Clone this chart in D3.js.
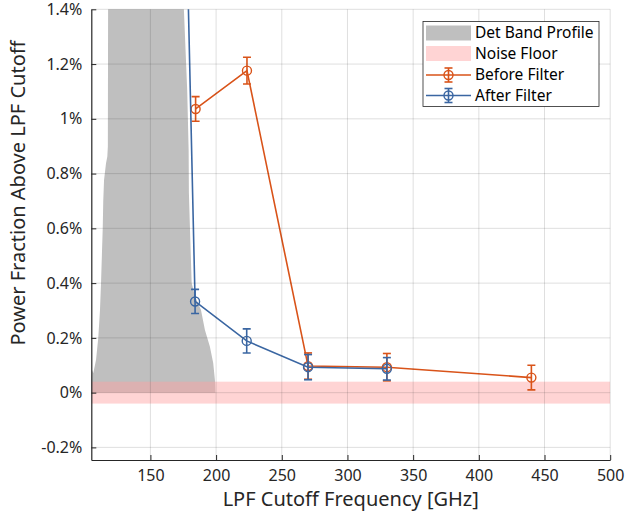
<!DOCTYPE html>
<html><head><meta charset="utf-8">
<script src="https://cdn.jsdelivr.net/npm/d3@7"></script>
<style>body{margin:0;background:#fff;} svg{display:block;font-family:"Noto Sans",sans-serif;}</style>
</head><body><svg id="chart" width="628" height="520"></svg>
<script>
// ---- data ----
const xTicks = [150, 200, 250, 300, 350, 400, 450, 500];
const xTickLabels = ["150", "200", "250", "300", "350", "400", "450", "500"];
const yTicks = [-0.2, 0, 0.2, 0.4, 0.6, 0.8, 1.0, 1.2, 1.4];
const yTickLabels = ["-0.2%", "0%", "0.2%", "0.4%", "0.6%", "0.8%", "1%", "1.2%", "1.4%"];

const bandFreq  = [100, 105, 105.8, 106.5, 108.6, 110.3, 111.6, 112.4, 113.7, 114.1, 114.7, 116.2, 117.2, 117.6, 118, 130, 150, 165, 172, 175.5, 178.0, 179.1, 179.3, 180.1, 181.4, 183.9, 188.5, 191.5, 195.3, 197.8, 199.1, 199.4];
const bandValue = [0, 0.05, 0.083, 0.071, 0.12, 0.2, 0.3, 0.4, 0.6, 0.7, 0.777, 0.838, 0.862, 0.9, 2.0, 3.0, 3.2, 3.0, 2.0, 1.397, 1.105, 0.886, 0.729, 0.6, 0.4, 0.353, 0.302, 0.229, 0.168, 0.108, 0.046, 0];

const noiseFloor = [-0.04, 0.04];

const beforeFreq  = [184.4, 223.5, 270, 330, 440];
const beforeValue = [1.036, 1.176, 0.097, 0.093, 0.055];
const beforeErr   = [0.045, 0.049, 0.048, 0.05, 0.045];

const afterFreq  = [150, 184, 223.3, 270, 330];
const afterValue = [7.5, 0.333, 0.189, 0.093, 0.087];
const afterErr   = [0.045, 0.044, 0.044, 0.046, 0.041];

const legendLabels = ["Det Band Profile", "Noise Floor", "Before Filter", "After Filter"];

// ---- styles ----
const C_AXIS = "#262626";
const C_BAND = "#bfbfbf";
const C_NOISE = "rgb(255,160,160)";
const C_BEFORE = "#D95319";
const C_AFTER = "#3a66a2";

const svg = d3.select("#chart");
const L = 91.3, R = 610.2, T = 9.3, B = 460;
const x = d3.scaleLinear().domain([105, 500]).range([L, R]);
const y = d3.scaleLinear().domain([-0.246, 1.4]).range([B, T]);

svg.append("defs").append("clipPath").attr("id", "clip")
  .append("rect").attr("x", L).attr("y", T).attr("width", R - L).attr("height", B - T);

const plot = svg.append("g").attr("clip-path", "url(#clip)");

// band profile
const band = bandFreq.map((f, i) => ({f, v: bandValue[i]}));
plot.append("path").datum(band)
  .attr("d", d3.area().x(d => x(d.f)).y0(y(0)).y1(d => y(d.v)))
  .attr("fill", C_BAND);

// noise floor
plot.append("rect")
  .attr("x", L).attr("width", R - L)
  .attr("y", y(noiseFloor[1])).attr("height", y(noiseFloor[0]) - y(noiseFloor[1]))
  .attr("fill", C_NOISE).attr("fill-opacity", 0.45);

// grid
const grid = svg.append("g").attr("stroke", C_AXIS).attr("stroke-opacity", 0.15).attr("stroke-width", 1);
xTicks.forEach(t => grid.append("line").attr("x1", x(t)).attr("x2", x(t)).attr("y1", T).attr("y2", B));
yTicks.forEach(t => grid.append("line").attr("x1", L).attr("x2", R).attr("y1", y(t)).attr("y2", y(t)));

// series
function series(fr, vals, errs, color) {
  const pts = fr.map((f, i) => ({f, v: vals[i], e: errs[i]}));
  const g = plot.append("g");
  g.append("path").datum(pts)
    .attr("d", d3.line().x(d => x(d.f)).y(d => y(d.v)))
    .attr("fill", "none").attr("stroke", color).attr("stroke-width", 1.6);
  const cap = 4;
  pts.forEach(d => {
    const cx = x(d.f), y1 = y(d.v + d.e), y2 = y(d.v - d.e);
    g.append("line").attr("x1", cx).attr("x2", cx).attr("y1", y1).attr("y2", y2).attr("stroke", color).attr("stroke-width", 1.6);
    g.append("line").attr("x1", cx - cap).attr("x2", cx + cap).attr("y1", y1).attr("y2", y1).attr("stroke", color).attr("stroke-width", 1.6);
    g.append("line").attr("x1", cx - cap).attr("x2", cx + cap).attr("y1", y2).attr("y2", y2).attr("stroke", color).attr("stroke-width", 1.6);
    g.append("circle").attr("cx", cx).attr("cy", y(d.v)).attr("r", 4.5)
      .attr("fill", "none").attr("stroke", color).attr("stroke-width", 1.4);
  });
}
series(beforeFreq, beforeValue, beforeErr, C_BEFORE);
series(afterFreq, afterValue, afterErr, C_AFTER);

// axes
const xAxis = svg.append("g").attr("transform", `translate(0,${B})`)
  .call(d3.axisBottom(x).tickValues(xTicks).tickFormat((d, i) => xTickLabels[i]).tickSizeInner(-5).tickSizeOuter(0).tickPadding(10));
const yAxis = svg.append("g").attr("transform", `translate(${L},0)`)
  .call(d3.axisLeft(y).tickValues(yTicks).tickFormat((d, i) => yTickLabels[i]).tickSizeInner(-5).tickSizeOuter(0).tickPadding(9));
[xAxis, yAxis].forEach(a => {
  a.select(".domain").attr("stroke", C_AXIS).attr("stroke-width", 1.2);
  a.selectAll(".tick line").attr("stroke", C_AXIS);
  a.selectAll("text").attr("fill", C_AXIS).attr("font-size", 16).attr("font-family", '"Noto Sans",sans-serif');
});

// axis labels
svg.append("text").attr("x", (L + R) / 2).attr("y", 506).attr("text-anchor", "middle")
  .attr("font-size", 20).attr("fill", C_AXIS).text("LPF Cutoff Frequency [GHz]");
svg.append("text").attr("transform", `translate(24.5,193) rotate(-90)`).attr("text-anchor", "middle")
  .attr("font-size", 20).attr("fill", C_AXIS).text("Power Fraction Above LPF Cutoff");

// legend
const lg = svg.append("g");
lg.append("rect").attr("x", 423).attr("y", 21.5).attr("width", 176).attr("height", 85)
  .attr("fill", "#fff").attr("stroke", C_AXIS).attr("stroke-width", 0.8);
const rowY = [33, 53.5, 75, 95.5];
const sx1 = 426, sx2 = 471;
lg.append("rect").attr("x", sx1).attr("y", rowY[0] - 7.5).attr("width", sx2 - sx1).attr("height", 15).attr("fill", C_BAND);
lg.append("rect").attr("x", sx1).attr("y", rowY[1] - 7.5).attr("width", sx2 - sx1).attr("height", 15).attr("fill", C_NOISE).attr("fill-opacity", 0.45);
[[C_BEFORE, rowY[2]], [C_AFTER, rowY[3]]].forEach(([c, yy]) => {
  const mx = (sx1 + sx2) / 2;
  lg.append("line").attr("x1", sx1).attr("x2", sx2).attr("y1", yy).attr("y2", yy).attr("stroke", c).attr("stroke-width", 1.6);
  lg.append("line").attr("x1", mx).attr("x2", mx).attr("y1", yy - 7).attr("y2", yy + 7).attr("stroke", c).attr("stroke-width", 1.6);
  lg.append("line").attr("x1", mx - 4).attr("x2", mx + 4).attr("y1", yy - 7).attr("y2", yy - 7).attr("stroke", c).attr("stroke-width", 1.6);
  lg.append("line").attr("x1", mx - 4).attr("x2", mx + 4).attr("y1", yy + 7).attr("y2", yy + 7).attr("stroke", c).attr("stroke-width", 1.6);
  lg.append("circle").attr("cx", mx).attr("cy", yy).attr("r", 4.5).attr("fill", "none").attr("stroke", c).attr("stroke-width", 1.4);
});
legendLabels.forEach((t, i) => {
  lg.append("text").attr("x", 475).attr("y", rowY[i]).attr("dy", "0.35em")
    .attr("font-size", 15.5).attr("fill", "#000").text(t);
});
</script></body></html>
